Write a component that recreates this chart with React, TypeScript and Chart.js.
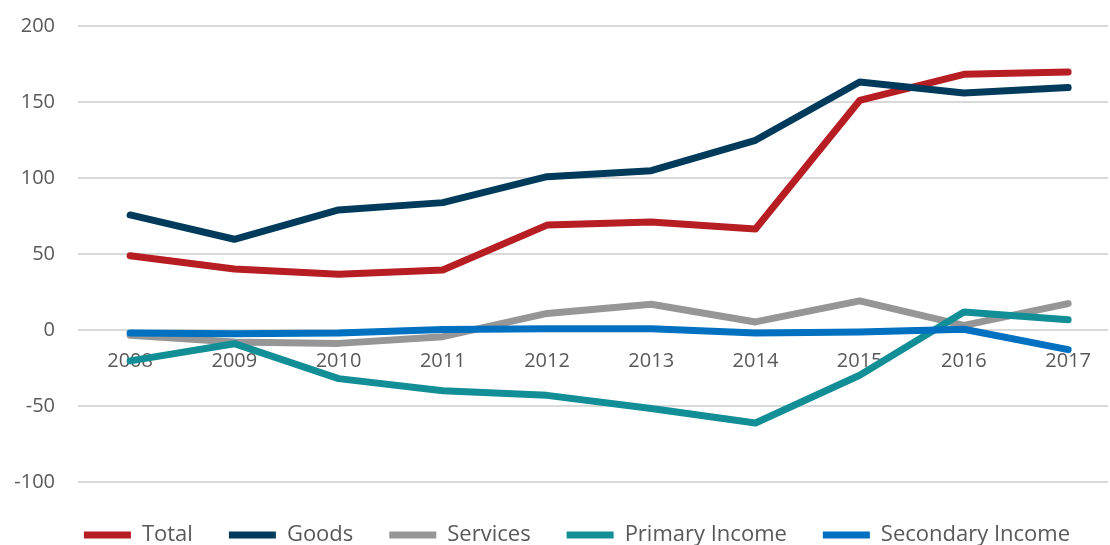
import React, { useEffect, useRef } from "react";
import { Chart, registerables } from "chart.js";

Chart.register(...registerables);

const years = ["2008", "2009", "2010", "2011", "2012", "2013", "2014", "2015", "2016", "2017"];
const total = [48.9, 40.1, 36.6, 39.5, 69, 71, 66.5, 151, 168.2, 169.7];
const goods = [75.7, 59.7, 79, 83.8, 100.9, 104.8, 124.8, 163.2, 155.9, 159.5];
const services = [-3.5, -7.9, -8.8, -4.4, 10.9, 16.9, 5.3, 19.2, 3, 17.4];
const primaryIncome = [-20.3, -9, -32, -40, -43, -51.7, -61.2, -29.8, 11.8, 6.8];
const secondaryIncome = [-2, -2.4, -2, 0.3, 0.9, 0.9, -2, -1.3, 0.5, -12.9];

const seriesNames = ["Total", "Goods", "Services", "Primary Income", "Secondary Income"];
const seriesColors = ["#B71E23", "#003B5C", "#969696", "#128E96", "#0070C0"];
const yTicks = [-100, -50, 0, 50, 100, 150, 200];

const textColor = "#595959";
const fontFamily = "'Open Sans', 'Noto Sans', sans-serif";

const legendShift = {
  id: "legendShift",
  afterLayout(chart: any) {
    if (chart.legend) {
      chart.legend.left = 44;
    }
  },
};

export default function App() {
  const ref = useRef<HTMLCanvasElement>(null);

  useEffect(() => {
    document.body.style.margin = "0";
    const series = [total, goods, services, primaryIncome, secondaryIncome];
    const chart = new Chart(ref.current as HTMLCanvasElement, {
      type: "line",
      data: {
        labels: years,
        datasets: series.map((d, i) => ({
          label: seriesNames[i],
          data: d,
          borderColor: seriesColors[i],
          backgroundColor: seriesColors[i],
          borderWidth: 7,
          pointRadius: 0,
          pointHoverRadius: 0,
          tension: 0,
          borderCapStyle: "round" as const,
          borderJoinStyle: "round" as const,
          fill: false,
          order: series.length - i,
        })),
      },
      plugins: [legendShift],
      options: {
        animation: false,
        responsive: false,
        maintainAspectRatio: false,
        layout: { padding: { top: 26, left: 0, right: 0, bottom: 0 } },
        scales: {
          x: {
            type: "linear",
            position: { y: 0 } as any,
            min: 2007.5,
            max: 2017.385,
            afterBuildTicks: (s: any) => {
              s.ticks = years.map((y) => ({ value: Number(y) }));
            },
            ticks: {
              callback: (v: any) => String(v),
              color: textColor,
              font: { family: fontFamily, size: 20 },
              padding: 19,
              maxRotation: 0,
              autoSkip: false,
            },
            grid: { display: false, drawTicks: false },
            border: { display: false },
          },
          y: {
            min: -100,
            max: 200,
            afterBuildTicks: (s: any) => {
              s.ticks = yTicks.map((v) => ({ value: v }));
            },
            afterFit: (s: any) => {
              s.width = 78;
              s.paddingTop = 0;
              s.paddingBottom = 0;
            },
            ticks: {
              callback: (v: any) => String(v),
              color: textColor,
              font: { family: fontFamily, size: 20 },
              padding: 23,
            },
            grid: { color: "#D9D9D9", lineWidth: 2, drawTicks: false },
            border: { display: false },
          },
        },
        plugins: {
          legend: {
            position: "bottom",
            maxHeight: 63,
            title: {
              display: true,
              text: "",
              font: { size: 1, lineHeight: 1 },
              padding: { top: 5, bottom: 0 },
            },
            labels: {
              usePointStyle: true,
              pointStyle: "line",
              pointStyleWidth: 47,
              padding: 36,
              color: textColor,
              font: { family: fontFamily, size: 22 },
              sort: (a: any, b: any) => a.datasetIndex - b.datasetIndex,
            },
          },
          tooltip: { enabled: false },
        },
      },
    });
    return () => chart.destroy();
  }, []);

  return (
    <div style={{ width: 1110, height: 545, overflow: "hidden" }}>
      <canvas ref={ref} width={1110} height={545} style={{ display: "block" }} />
    </div>
  );
}
